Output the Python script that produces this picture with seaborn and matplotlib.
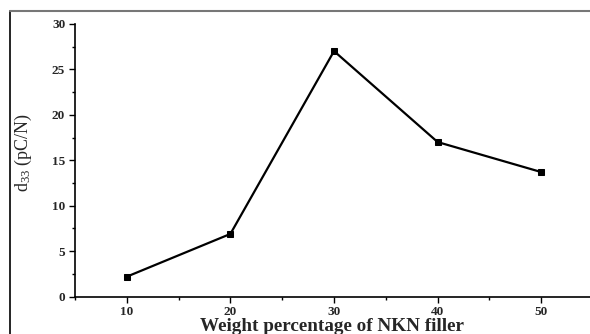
import matplotlib
matplotlib.use("Agg")
import matplotlib.pyplot as plt
import seaborn as sns
import pandas as pd
from matplotlib.ticker import MultipleLocator
from matplotlib.lines import Line2D

weight_pct = [10, 20, 30, 40, 50]
d33 = [2.2, 6.9, 27.0, 17.0, 13.7]

sns.set_style("ticks")
plt.rcParams['font.family'] = ['Liberation Serif', 'DejaVu Serif']
plt.rcParams['mathtext.fontset'] = 'custom'
plt.rcParams['mathtext.rm'] = 'Liberation Serif'
plt.rcParams['mathtext.it'] = 'Liberation Serif:italic'

df = pd.DataFrame({"w": weight_pct, "d": d33})

fig = plt.figure(figsize=(5.9, 3.34), dpi=100)
ax = fig.add_axes([0.127, 0.1117, 0.873, 0.817])
sns.lineplot(data=df, x="w", y="d", ax=ax, color="black", linewidth=1.6,
             marker="s", markersize=5, markeredgecolor="black", markerfacecolor="black")

ax.set_xlim(5, 54.7)
ax.set_ylim(0, 30)
ax.xaxis.set_major_locator(MultipleLocator(10))
ax.xaxis.set_minor_locator(MultipleLocator(5))
ax.yaxis.set_major_locator(MultipleLocator(5))
ax.yaxis.set_minor_locator(MultipleLocator(2.5))
ax.set_xticks([10, 20, 30, 40, 50])
ax.tick_params(axis='both', which='major', length=4, width=1, direction='out',
               labelsize=9.5, color='black', pad=3)
ax.tick_params(axis='both', which='minor', length=2.5, width=1, direction='out', color='black')
for lab in ax.get_xticklabels() + ax.get_yticklabels():
    lab.set_fontweight('bold')

sns.despine(ax=ax)
for s in ['left', 'bottom']:
    ax.spines[s].set_color('black')
    ax.spines[s].set_linewidth(1.2)

ax.set_xlabel("Weight percentage of NKN filler", fontsize=13.8, fontweight='bold', labelpad=0)
ax.set_ylabel(r"d$_{\mathrm{33}}$ (pC/N)", fontsize=13)
ax.yaxis.set_label_coords(-0.08, 0.53)

# outer frame (left and top edges)
fig.add_artist(Line2D([10/590, 10/590], [0, 1 - 11/334], transform=fig.transFigure,
                      color='black', linewidth=1.2))
fig.add_artist(Line2D([10/590, 1], [1 - 11/334, 1 - 11/334], transform=fig.transFigure,
                      color='#777777', linewidth=1.5))

fig.savefig("out.png", dpi=100)
